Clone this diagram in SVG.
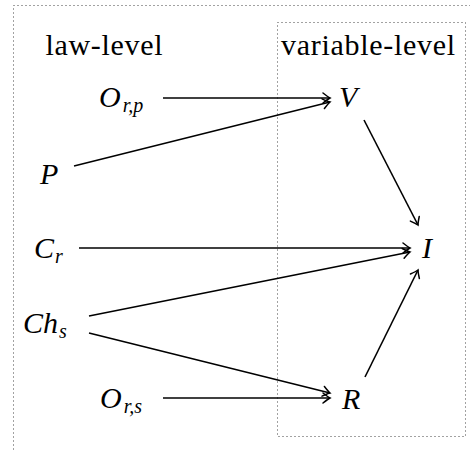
<svg xmlns="http://www.w3.org/2000/svg" width="470" height="450" viewBox="0 0 470 450">
<defs>
<marker id="ah" markerUnits="userSpaceOnUse" markerWidth="14" markerHeight="14" refX="0" refY="0" viewBox="-10 -7 12 14" orient="auto">
<path d="M -7 -5 Q -2 -1 0 0 Q -2 1 -7 5" fill="none" stroke="#000" stroke-width="1.5" stroke-linecap="round"/>
</marker>
</defs>
<g id="frames" fill="none" stroke="#444" stroke-width="1" stroke-dasharray="1 3">
<rect x="13.5" y="5.5" width="470" height="460"/>
<rect x="277.5" y="22.5" width="188" height="414"/>
</g>
<g id="label-law"><text x="104" y="55" font-family="Liberation Serif" font-size="30" text-anchor="middle" textLength="117" lengthAdjust="spacing">law-level</text></g>
<g id="label-var"><text x="368" y="55" font-family="Liberation Serif" font-size="30" text-anchor="middle" textLength="174" lengthAdjust="spacing">variable-level</text></g>
<g id="Orp"><text x="99" y="107" font-family="Liberation Serif" font-size="30" font-style="italic">O<tspan font-size="20" dy="5" dx="2">r,p</tspan></text></g>
<g id="V"><text x="339" y="107" font-family="Liberation Serif" font-size="30" font-style="italic">V</text></g>
<g id="P"><text x="40" y="184" font-family="Liberation Serif" font-size="30" font-style="italic">P</text></g>
<g id="Cr"><text x="34" y="258" font-family="Liberation Serif" font-size="30" font-style="italic">C<tspan font-size="20" dy="5" dx="1">r</tspan></text></g>
<g id="I"><text x="422" y="258" font-family="Liberation Serif" font-size="30" font-style="italic">I</text></g>
<g id="Chs"><text x="23" y="333" font-family="Liberation Serif" font-size="30" font-style="italic">Ch<tspan font-size="20" dy="5" dx="1">s</tspan></text></g>
<g id="Ors"><text x="100" y="408" font-family="Liberation Serif" font-size="30" font-style="italic">O<tspan font-size="20" dy="5" dx="2">r,s</tspan></text></g>
<g id="R"><text x="342" y="409" font-family="Liberation Serif" font-size="30" font-style="italic">R</text></g>
<g id="edges" fill="none" stroke="#000" stroke-width="1.6" marker-end="url(#ah)">
<line x1="163" y1="98" x2="330" y2="98"/>
<line x1="74" y1="166" x2="330" y2="102"/>
<line x1="364" y1="120" x2="418" y2="225"/>
<line x1="79" y1="248" x2="410" y2="248"/>
<line x1="89" y1="316" x2="410" y2="252"/>
<line x1="89" y1="333" x2="330" y2="393"/>
<line x1="163" y1="398" x2="330" y2="398"/>
<line x1="365" y1="377" x2="418" y2="270"/>
</g>
</svg>
